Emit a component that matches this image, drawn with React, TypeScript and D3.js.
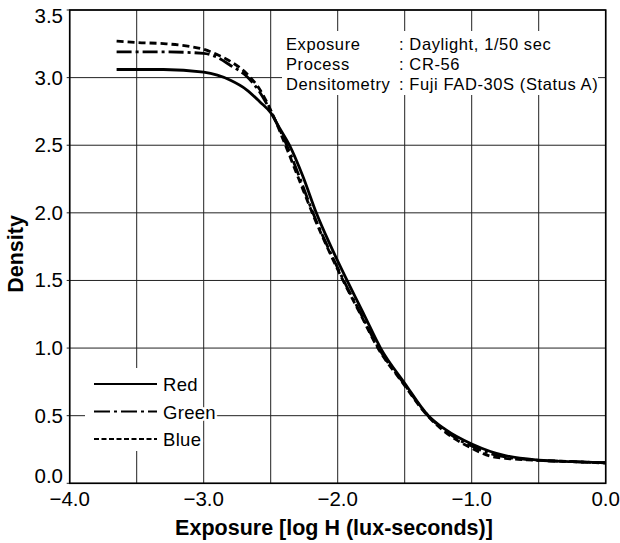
import React from 'react';
import * as d3 from 'd3';

// log H exposure values and densities
const redX = [-3.65, -3.3, -3.0, -2.8, -2.68, -2.58, -2.5, -2.43, -2.36, -2.26, -2.16, -2.05, -1.93, -1.8, -1.68, -1.5, -1.324, -1.2, -1.0, -0.86, -0.75, -0.5, -0.25, 0.0];
const redD = [3.06, 3.06, 3.04, 2.98, 2.91, 2.82, 2.74, 2.62, 2.5, 2.27, 2.0, 1.75, 1.5, 1.24, 1.0, 0.74, 0.5, 0.4, 0.29, 0.235, 0.205, 0.172, 0.16, 0.152];

const greenX = [-3.65, -3.3, -3.0, -2.9, -2.8, -2.68, -2.58, -2.5, -2.38, -2.28, -2.185, -2.075, -1.955, -1.825, -1.695, -1.515, -1.325, -1.2, -1.0, -0.86, -0.75, -0.5, -0.25, 0.0];
const greenD = [3.19, 3.19, 3.18, 3.15, 3.09, 3.01, 2.89, 2.75, 2.5, 2.25, 2.0, 1.75, 1.5, 1.25, 1.0, 0.75, 0.5, 0.39, 0.275, 0.22, 0.195, 0.17, 0.16, 0.152];

const blueX = [-3.65, -3.5, -3.28, -3.1, -3.0, -2.9, -2.8, -2.68, -2.58, -2.5, -2.39, -2.29, -2.19, -2.08, -1.96, -1.83, -1.7, -1.52, -1.33, -1.2, -1.0, -0.86, -0.75, -0.5, -0.25, 0.0];
const blueD = [3.27, 3.26, 3.25, 3.23, 3.21, 3.17, 3.12, 3.03, 2.91, 2.76, 2.5, 2.25, 2.0, 1.75, 1.5, 1.25, 1.0, 0.75, 0.5, 0.38, 0.26, 0.2, 0.185, 0.17, 0.16, 0.15];

const xGrid = [-4, -3.5, -3, -2.5, -2, -1.5, -1, -0.5, 0];
const xLabels = [-4, -3, -2, -1, 0];
const yGrid = [0, 0.5, 1, 1.5, 2, 2.5, 3, 3.5];

const seriesNames = ['Red', 'Green', 'Blue'];
const noteKeys = ['Exposure', 'Process', 'Densitometry'];
const noteValues = [': Daylight, 1/50 sec', ': CR-56', ': Fuji FAD-30S (Status A)'];

const xTitle = 'Exposure [log H (lux-seconds)]';
const yTitle = 'Density';

const FONT = '"Liberation Sans", Arial, Helvetica, sans-serif';

export default function App() {
  const W = 620, H = 543;
  const x = d3.scaleLinear().domain([-4, 0]).range([69.7, 605.7]);
  const y = d3.scaleLinear().domain([0, 3.5]).range([483.3, 10]);
  const line = d3.line<[number, number]>()
    .x(d => x(d[0]))
    .y(d => y(d[1]))
    .curve(d3.curveMonotoneX);
  const fmt = d3.format('.1f');

  const series = [
    { name: seriesNames[0], xs: redX, ds: redD, dash: undefined as string | undefined, legendDash: undefined as string | undefined },
    { name: seriesNames[1], xs: greenX, ds: greenD, dash: '15,4,3,4', legendDash: '16,4,3,4' },
    { name: seriesNames[2], xs: blueX, ds: blueD, dash: '7,4', legendDash: '5,2.5' },
  ];

  const [x0, x1] = x.range();
  const [yb, yt] = y.range();

  return (
    <svg width={W} height={H} style={{ position: 'absolute', left: 0, top: 0, background: '#fff' }}
      fontFamily={FONT}>
      <rect x={0} y={0} width={W} height={H} fill="#fff" />
      {/* grid */}
      {xGrid.map(v => (
        <line key={'gx' + v} x1={x(v)} x2={x(v)} y1={yt} y2={yb} stroke="#222" strokeWidth={1} />
      ))}
      {yGrid.map(v => (
        <line key={'gy' + v} x1={x0 - 3} x2={x1} y1={y(v)} y2={y(v)} stroke="#222" strokeWidth={1} />
      ))}
      {/* annotation backdrop */}
      <rect x={282} y={31} width={316} height={64} fill="#fff" />
      {/* legend backdrop */}
      <rect x={85} y={368} width={113} height={83} fill="#fff" />

      {/* curves */}
      {series.map(s => (
        <path key={s.name}
          d={line(s.xs.map((v, i) => [v, s.ds[i]] as [number, number])) || ''}
          fill="none" stroke="#000" strokeWidth={2.8}
          strokeDasharray={s.dash} />
      ))}

      {/* frame */}
      <rect x={x0} y={yt} width={x1 - x0} height={yb - yt} fill="none" stroke="#000" strokeWidth={1.6} />

      {/* y tick labels */}
      {yGrid.map((v, i) => (
        <text key={'yl' + v} x={63} y={y(v) + 7 + (i === yGrid.length - 1 ? 6 : 0) + (i === 0 ? -7 : 0)}
          textAnchor="end" fontSize={20.5} fill="#000">{fmt(v)}</text>
      ))}
      {/* x tick labels */}
      {xLabels.map(v => (
        <text key={'xl' + v} x={x(v)} y={506} textAnchor="middle" fontSize={20.5} fill="#000">{fmt(v)}</text>
      ))}

      {/* axis titles */}
      <text x={334} y={535} textAnchor="middle" fontSize={21.5} fontWeight="bold" fill="#000">{xTitle}</text>
      <text transform={`translate(23,254) rotate(-90)`} textAnchor="middle" fontSize={21.5} fontWeight="bold" fill="#000">{yTitle}</text>

      {/* annotation */}
      {noteKeys.map((k, i) => (
        <g key={k}>
          <text x={286} y={50 + i * 20} fontSize={16.5} letterSpacing={0.6} fill="#000">{k}</text>
          <text x={399} y={50 + i * 20} fontSize={16.5} letterSpacing={0.6} fill="#000">{noteValues[i]}</text>
        </g>
      ))}

      {/* legend */}
      {series.map((s, i) => {
        const ly = 384 + i * 27.5;
        return (
          <g key={'lg' + s.name}>
            <line x1={94} x2={157} y1={ly} y2={ly} stroke="#000" strokeWidth={1.8} strokeDasharray={s.legendDash} />
            <text x={163} y={ly + 7} fontSize={18.5} letterSpacing={0.3} fill="#000" stroke="#fff" strokeWidth={5}
              paintOrder="stroke" strokeLinejoin="round">{s.name}</text>
          </g>
        );
      })}
    </svg>
  );
}
